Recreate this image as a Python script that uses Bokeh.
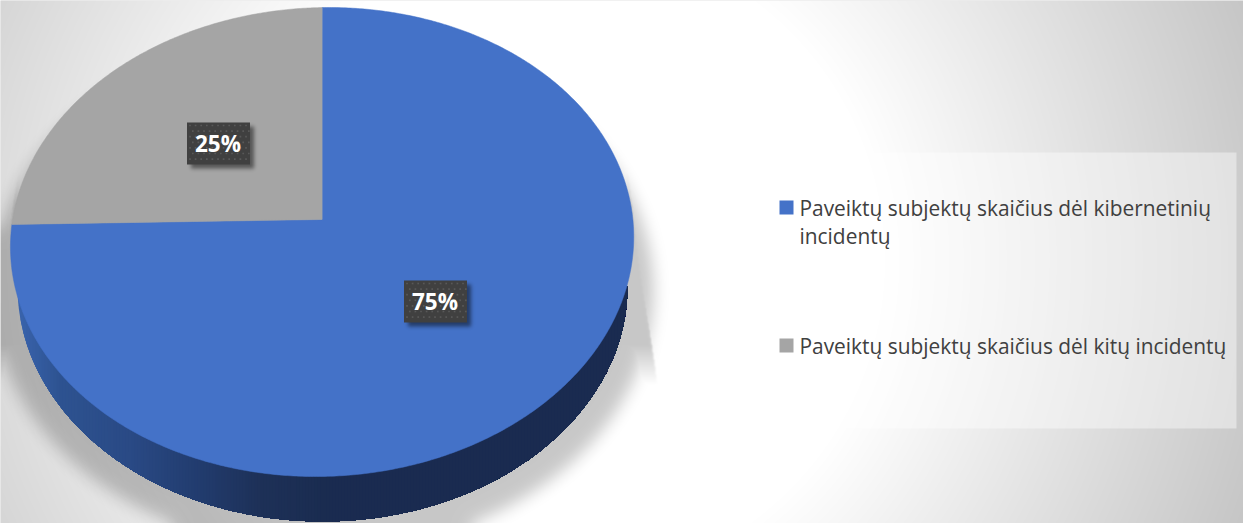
import numpy as np
from bokeh.core.properties import value
from bokeh.embed import file_html
from bokeh.models import Range1d
from bokeh.plotting import figure
from bokeh.resources import INLINE

# Shares of affected subjects
categories = ["Paveiktų subjektų skaičius dėl kibernetinių incidentų",
              "Paveiktų subjektų skaičius dėl kitų incidentų"]
shares = [75, 25]
share_labels = ["75%", "25%"]
slice_colors = ["#4472c8", "#a5a5a5"]
legend_lines = [["Paveiktų subjektų skaičius dėl kibernetinių", "incidentų"],
                ["Paveiktų subjektų skaičius dėl kitų incidentų"]]

W, H = 1243, 523
CX, CY = 321.6, 219.0          # projected pie centre
RX, RY = 310.2, 232.3          # projected radii
PERSP, ROLL = 0.096, -0.016    # perspective strength and slight roll of the disc
FONT = "Open Sans"


def disc(theta):
    """Project clockwise-from-top angles on the tilted pie disc to canvas coordinates."""
    u, v = np.sin(theta), np.cos(theta)
    x = RX * u / (1 + PERSP * v)
    y = -RY * v / (1 + PERSP * v)
    return CX + x, CY + y + ROLL * x


def wedge(start, end):
    t = np.linspace(start, end, max(int((end - start) * 120), 8))
    x, y = disc(t)
    return np.r_[CX, x], np.r_[CY, y]


def blur(a, sigma):
    r = int(3 * sigma)
    k = np.exp(-0.5 * (np.arange(-r, r + 1) / sigma) ** 2)
    k /= k.sum()
    a = np.apply_along_axis(lambda m: np.convolve(np.pad(m, r, mode="edge"), k, "valid"), 0, a)
    return np.apply_along_axis(lambda m: np.convolve(np.pad(m, r, mode="edge"), k, "valid"), 1, a)


def rgba(grey, alpha):
    g = np.clip(grey, 0, 255).astype(np.uint32)
    al = np.clip(alpha * 255, 0, 255).astype(np.uint32)
    return (al << 24) | (g << 16) | (g << 8) | g


def place_image(fig, arr, left, top):
    # The y range runs downwards, so rows are reversed and the anchor sits on the lower edge
    h, w = arr.shape
    fig.image_rgba(image=[arr[::-1]], x=left, y=top + h, dw=w, dh=h, origin="top_left", anchor="top_left")


# Page backdrop: soft radial vignette
yy, xx = np.mgrid[0:H, 0:W] + 0.5
dist = np.hypot(xx - 560, yy - 260)
backdrop = 255 - 58 * np.clip((dist - 325) / 415, 0, 1.2)

# Cast shadow under the pie: blurred ellipse plus the sharper side flares
ell = (((xx - 322) / 331) ** 2 + ((yy - 290) / 261) ** 2 <= 1).astype(float)
soft = blur(ell, 8)
right_edge = 634 + (yy - 215) * 21 / 155
left_edge = 14 - (yy - 190) * 15 / 93
flare = ((xx < right_edge) & (xx > left_edge)).astype(float)
flare = blur(flare, 1.0)
flare *= np.clip((385 - yy) / 40, 0, 1) * np.clip((yy - 165) / 40, 0, 1)
shadow = 0.22 * np.maximum(soft, flare)

p = figure(width=W, height=H, output_backend="svg", toolbar_location=None,
           x_range=Range1d(0, W), y_range=Range1d(H, 0), min_border=0,
           x_axis_location=None, y_axis_location=None)
p.grid.visible = False
p.outline_line_color = None
p.background_fill_color = "#dcdcdc"

place_image(p, rgba(backdrop, np.ones_like(backdrop)), 0, 0)
place_image(p, rgba(np.zeros_like(shadow), shadow), 0, 0)

# Side wall of the pie, shaded with overlapping vertical strips from left to right
wall_cx, wall_cy, wall_rx, wall_ry = 322.0, 286.0, 305.0, 235.0
edges = np.arange(wall_cx - wall_rx, wall_cx + wall_rx, 3.0)
stop_x = [17, 60, 130, 200, 260, 330, 627]
stop_r = [0x3a, 0x2e, 0x2a, 0x22, 0x1e, 0x1a, 0x1a]
stop_g = [0x64, 0x53, 0x4a, 0x3c, 0x31, 0x2c, 0x2b]
stop_b = [0xad, 0x91, 0x85, 0x6e, 0x58, 0x50, 0x50]
right_end = wall_cx + wall_rx
arc_x = np.linspace(wall_cx - wall_rx, right_end, 1201)
arc_y = wall_cy + wall_ry * np.sqrt(np.clip(1 - ((arc_x - wall_cx) / wall_rx) ** 2, 0, 1))
xs, ys, cols = [], [], []
for a in edges:
    keep = arc_x >= a
    xs.append(np.r_[a, right_end, arc_x[keep][::-1]])
    ys.append(np.r_[wall_cy, wall_cy, arc_y[keep][::-1]])
    m = a + 1.5
    cols.append("#%02x%02x%02x" % (int(np.interp(m, stop_x, stop_r)),
                                   int(np.interp(m, stop_x, stop_g)),
                                   int(np.interp(m, stop_x, stop_b))))
p.patches(xs, ys, fill_color=cols, line_color=None)

# Pie slices: laid out clockwise from the top
fractions = np.array(shares, dtype=float) / sum(shares)
bounds = np.r_[0, np.cumsum(fractions)] * 2 * np.pi
for s, e, c in zip(bounds[:-1], bounds[1:], slice_colors):
    wx, wy = wedge(s, e)
    p.patch(wx, wy, fill_color=c, line_color=c, line_width=0.5)

# Data labels: dark dotted chips with a soft drop shadow
chip_w, chip_h = 63, 42
chip_centres = [(435, 301), (218, 143)]
for (lx, ly), text in zip(chip_centres, share_labels):
    pad = 14
    sh = np.zeros((chip_h + 2 * pad, chip_w + 2 * pad))
    sh[pad + 4:pad + 4 + chip_h, pad + 4:pad + 4 + chip_w] = 1
    sh = blur(sh, 2.0) * 0.48
    place_image(p, rgba(np.zeros_like(sh), sh), lx - chip_w / 2 - pad, ly - chip_h / 2 - pad)
    p.rect([lx], [ly], chip_w, chip_h, fill_color="#404040", line_color=None)
    dx, dy = [], []
    for j, oy in enumerate(np.arange(3, chip_h, 5.6)):
        for ox in np.arange(3 + (j % 2) * 2.8, chip_w - 1, 5.6):
            dx.append(lx - chip_w / 2 + ox)
            dy.append(ly - chip_h / 2 + oy)
    p.rect(dx, dy, 1.7, 1.7, fill_color="#585858", line_color=None)
    p.text([lx - 0.5], [ly], text=[text], text_color="white", text_font=value(FONT), text_font_style="bold",
           text_font_size="22.5px", text_align="center", text_baseline="middle")

# Legend panel
p.quad(left=[768], right=[1236], top=[152], bottom=[428], fill_color="white", fill_alpha=0.42, line_color=None)
swatch_y = [207, 345]
for sy, c, lines in zip(swatch_y, slice_colors, legend_lines):
    p.rect([786], [sy], 14, 14, fill_color=c, line_color=None)
    for i, line in enumerate(lines):
        p.text([799], [sy + i * 28.5], text=[line], text_color="#404040", text_font=value(FONT),
               text_font_size="20.9px", text_align="left", text_baseline="middle")

open("out.html", "w").write(file_html(p, INLINE))
